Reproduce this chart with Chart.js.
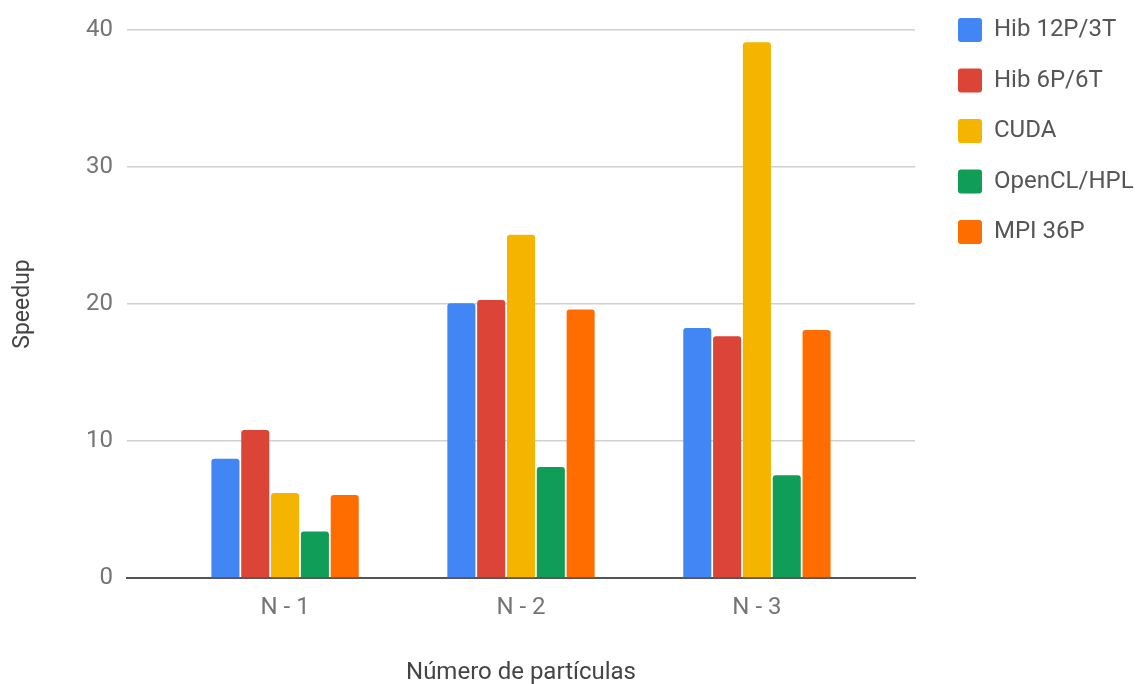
<!DOCTYPE html>
<html>
<head>
<meta charset="utf-8">
<script src="https://cdn.jsdelivr.net/npm/chart.js@4.4.1/dist/chart.umd.min.js"></script>
<style>
  html, body { margin: 0; padding: 0; background: #ffffff; }
  #wrap { position: relative; width: 1145px; height: 684px; }
</style>
</head>
<body>
<div id="wrap"><canvas id="speedup"></canvas></div>
<script>
/* global Chart */

const categories = ['N - 1', 'N - 2', 'N - 3']
const hib12p3t = [8.7, 20.05, 18.25]
const hib6p6t = [10.8, 20.3, 17.65]
const cuda = [6.2, 25.05, 39.1]
const openclHpl = [3.4, 8.1, 7.5]
const mpi36p = [6.05, 19.6, 18.1]
const yTicks = [0, 10, 20, 30, 40]

const series = [
  { label: 'Hib 12P/3T', data: hib12p3t, color: '#4285f4' },
  { label: 'Hib 6P/6T', data: hib6p6t, color: '#db4437' },
  { label: 'CUDA', data: cuda, color: '#f4b400' },
  { label: 'OpenCL/HPL', data: openclHpl, color: '#0f9d58' },
  { label: 'MPI 36P', data: mpi36p, color: '#ff6d00' },
]

// categories sit at 1..n on a linear axis so the outer padding can be set freely
const positions = categories.map((_, i) => i + 1)

const FONT = 'Roboto'

// legend sits to the right of the plot, first swatch at a fixed spot
const legendPlacer = {
  id: 'legendPlacer',
  afterLayout(chart) {
    const lg = chart.legend
    const pad = lg.options.labels.padding
    const dx = 958 - (lg.left + pad)
    const dy = 18 - (lg.top + pad)
    lg.left += dx
    lg.right += dx
    lg.top += dy
    lg.bottom += dy
  },
}

const chart = new Chart(document.getElementById('speedup').getContext('2d'), {
  type: 'bar',
  data: {
    labels: positions,
    datasets: series.map((s) => ({
      label: s.label,
      data: s.data,
      backgroundColor: s.color,
      borderWidth: 0,
      borderRadius: 3,
      categoryPercentage: 0.632,
      barPercentage: 0.94,
    })),
  },
  options: {
    animation: false,
    responsive: true,
    maintainAspectRatio: false,
    layout: {
      padding: { top: 30, left: 0, right: 0, bottom: 0 },
    },
    plugins: {
      tooltip: { enabled: false },
      legend: {
        position: 'right',
        align: 'start',
        labels: {
          color: '#555555',
          font: { family: FONT, size: 24 },
          boxWidth: 24,
          boxHeight: 24,
          padding: 26.5,
          useBorderRadius: true,
          borderRadius: 3,
        },
      },
    },
    scales: {
      x: {
        type: 'linear',
        offset: false,
        min: 0.33,
        max: 3.67,
        afterFit(scale) {
          scale.height = 106
        },
        ticks: {
          stepSize: 1,
          includeBounds: false,
          padding: 16,
          color: '#757575',
          font: { family: FONT, size: 24 },
          callback: (value) => categories[value - 1] || '',
        },
        grid: { display: false, drawTicks: false, offset: false },
        border: { display: true, color: '#555555', width: 2 },
        title: {
          display: true,
          text: 'Número de partículas',
          color: '#444444',
          font: { family: FONT, size: 24 },
          padding: { top: 0, bottom: -3 },
        },
      },
      y: {
        min: yTicks[0],
        max: yTicks[yTicks.length - 1],
        afterFit(scale) {
          scale.width = 127
        },
        ticks: {
          stepSize: yTicks[1] - yTicks[0],
          padding: 14,
          color: '#757575',
          font: { family: FONT, size: 24 },
        },
        grid: { color: '#d0d0d0', lineWidth: 1.5, drawTicks: false },
        border: { display: false },
        title: {
          display: true,
          text: 'Speedup',
          color: '#444444',
          font: { family: FONT, size: 23 },
          padding: { top: 9, bottom: 0 },
        },
      },
    },
  },
  plugins: [legendPlacer],
})

// leave room for the legend so the plot ends where the legend column begins
chart.options.layout.padding.right = Math.max(0, 230 - chart.legend.width)
chart.update()
</script>
</body>
</html>
